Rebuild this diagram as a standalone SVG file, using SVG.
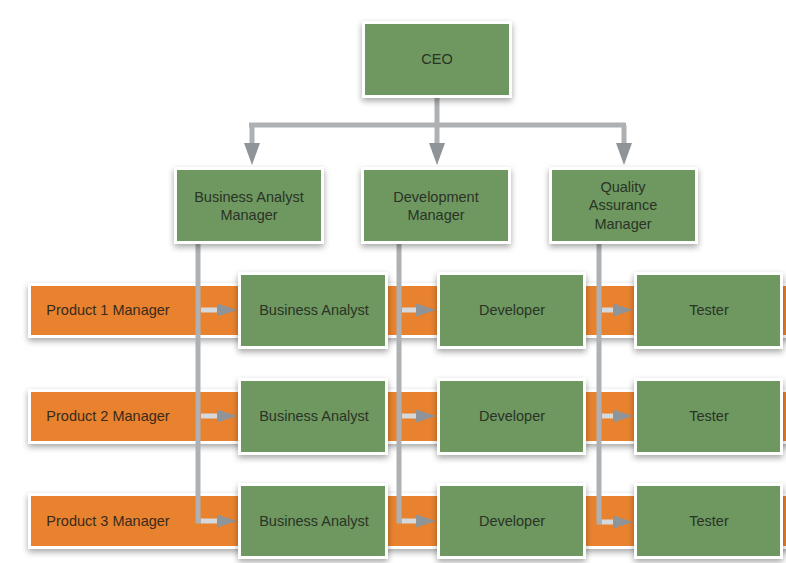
<svg xmlns="http://www.w3.org/2000/svg" width="786" height="563" viewBox="0 0 786 563">
  <defs>
    <filter id="sh" x="-10%" y="-20%" width="120%" height="150%">
      <feDropShadow dx="0" dy="3" stdDeviation="3" flood-color="#000" flood-opacity="0.35"/>
    </filter>
    <style>
      .g{fill:#6e9860;stroke:#fff;stroke-width:3;filter:url(#sh)}
      .o{fill:#e8822f;stroke:#fff;stroke-width:3;filter:url(#sh)}
      .t{font-family:"Liberation Sans",Arial,sans-serif;font-size:14.5px;fill:#2a3326;text-anchor:middle}
      .tl{font-family:"Liberation Sans",Arial,sans-serif;font-size:14.5px;fill:#3a2a1c;text-anchor:middle}
      .c{fill:none;stroke:#adb1b4;stroke-width:5}
      .s{fill:none;stroke:#d6d9db;stroke-width:5}
      .h{fill:#8f9498}
    </style>
  </defs>
  <rect width="786" height="563" fill="#fff"/>

  <!-- product manager bars -->
  <g id="p1"><rect class="o" x="29.5" y="284.5" width="760" height="52"/><text class="tl" x="108" y="315">Product 1 Manager</text></g>
  <g id="p2"><rect class="o" x="29.5" y="390.5" width="760" height="52"/><text class="tl" x="108" y="421">Product 2 Manager</text></g>
  <g id="p3"><rect class="o" x="29.5" y="494.5" width="760" height="53"/><text class="tl" x="108" y="526">Product 3 Manager</text></g>

  <!-- connectors -->
  <g id="connectors">
    <path class="c" d="M437,97 V125"/>
    <path class="c" d="M249,125 H626"/>
    <path class="c" d="M252,125 V146"/><path class="h" d="M244,143 L260,143 L252,165 Z"/>
    <path class="c" d="M437,125 V146"/><path class="h" d="M429,143 L445,143 L437,165 Z"/>
    <path class="c" d="M624,125 V146"/><path class="h" d="M616,143 L632,143 L624,165 Z"/>

    <path class="c" d="M198,243 V521 H202"/>
    <path class="c" d="M399,243 V521 H403"/>
    <path class="c" d="M599,243 V522 H603"/>

    <g id="harrows">
      <path class="s" d="M201,310 H220"/><path class="h" d="M217,303.5 L237,310 L217,316.5 Z"/>
      <path class="s" d="M201,416 H220"/><path class="h" d="M217,409.5 L237,416 L217,422.5 Z"/>
      <path class="s" d="M201,521 H220"/><path class="h" d="M217,514.5 L237,521 L217,527.5 Z"/>
      <path class="s" d="M402,310 H419"/><path class="h" d="M416,303.5 L436,310 L416,316.5 Z"/>
      <path class="s" d="M402,416 H419"/><path class="h" d="M416,409.5 L436,416 L416,422.5 Z"/>
      <path class="s" d="M402,521 H419"/><path class="h" d="M416,514.5 L436,521 L416,527.5 Z"/>
      <path class="s" d="M602,310 H616"/><path class="h" d="M613,303.5 L633,310 L613,316.5 Z"/>
      <path class="s" d="M602,416 H616"/><path class="h" d="M613,409.5 L633,416 L613,422.5 Z"/>
      <path class="s" d="M602,522 H616"/><path class="h" d="M613,515.5 L633,522 L613,528.5 Z"/>
    </g>
  </g>

  <!-- top -->
  <g id="ceo"><rect class="g" x="363.5" y="22.5" width="147" height="74"/><text class="t" x="437" y="64">CEO</text></g>
  <g id="bam"><rect class="g" x="175.5" y="168.5" width="147" height="74"/><text class="t" x="249" y="202">Business Analyst</text><text class="t" x="249" y="220">Manager</text></g>
  <g id="dm"><rect class="g" x="362.5" y="168.5" width="147" height="74"/><text class="t" x="436" y="202">Development</text><text class="t" x="436" y="220">Manager</text></g>
  <g id="qam"><rect class="g" x="550.5" y="168.5" width="146" height="74"/><text class="t" x="623" y="192">Quality</text><text class="t" x="623" y="210">Assurance</text><text class="t" x="623" y="229">Manager</text></g>

  <!-- row 1 -->
  <g id="ba1"><rect class="g" x="239.5" y="273.5" width="147" height="74"/><text class="t" x="314" y="315">Business Analyst</text></g>
  <g id="dev1"><rect class="g" x="438.5" y="273.5" width="146" height="74"/><text class="t" x="512" y="315">Developer</text></g>
  <g id="test1"><rect class="g" x="635.5" y="273.5" width="146" height="74"/><text class="t" x="709" y="315">Tester</text></g>
  <!-- row 2 -->
  <g id="ba2"><rect class="g" x="239.5" y="379.5" width="147" height="74"/><text class="t" x="314" y="421">Business Analyst</text></g>
  <g id="dev2"><rect class="g" x="438.5" y="379.5" width="146" height="74"/><text class="t" x="512" y="421">Developer</text></g>
  <g id="test2"><rect class="g" x="635.5" y="379.5" width="146" height="74"/><text class="t" x="709" y="421">Tester</text></g>
  <!-- row 3 -->
  <g id="ba3"><rect class="g" x="239.5" y="484.5" width="147" height="73"/><text class="t" x="314" y="526">Business Analyst</text></g>
  <g id="dev3"><rect class="g" x="438.5" y="484.5" width="146" height="73"/><text class="t" x="512" y="526">Developer</text></g>
  <g id="test3"><rect class="g" x="635.5" y="484.5" width="146" height="73"/><text class="t" x="709" y="526">Tester</text></g>
</svg>
